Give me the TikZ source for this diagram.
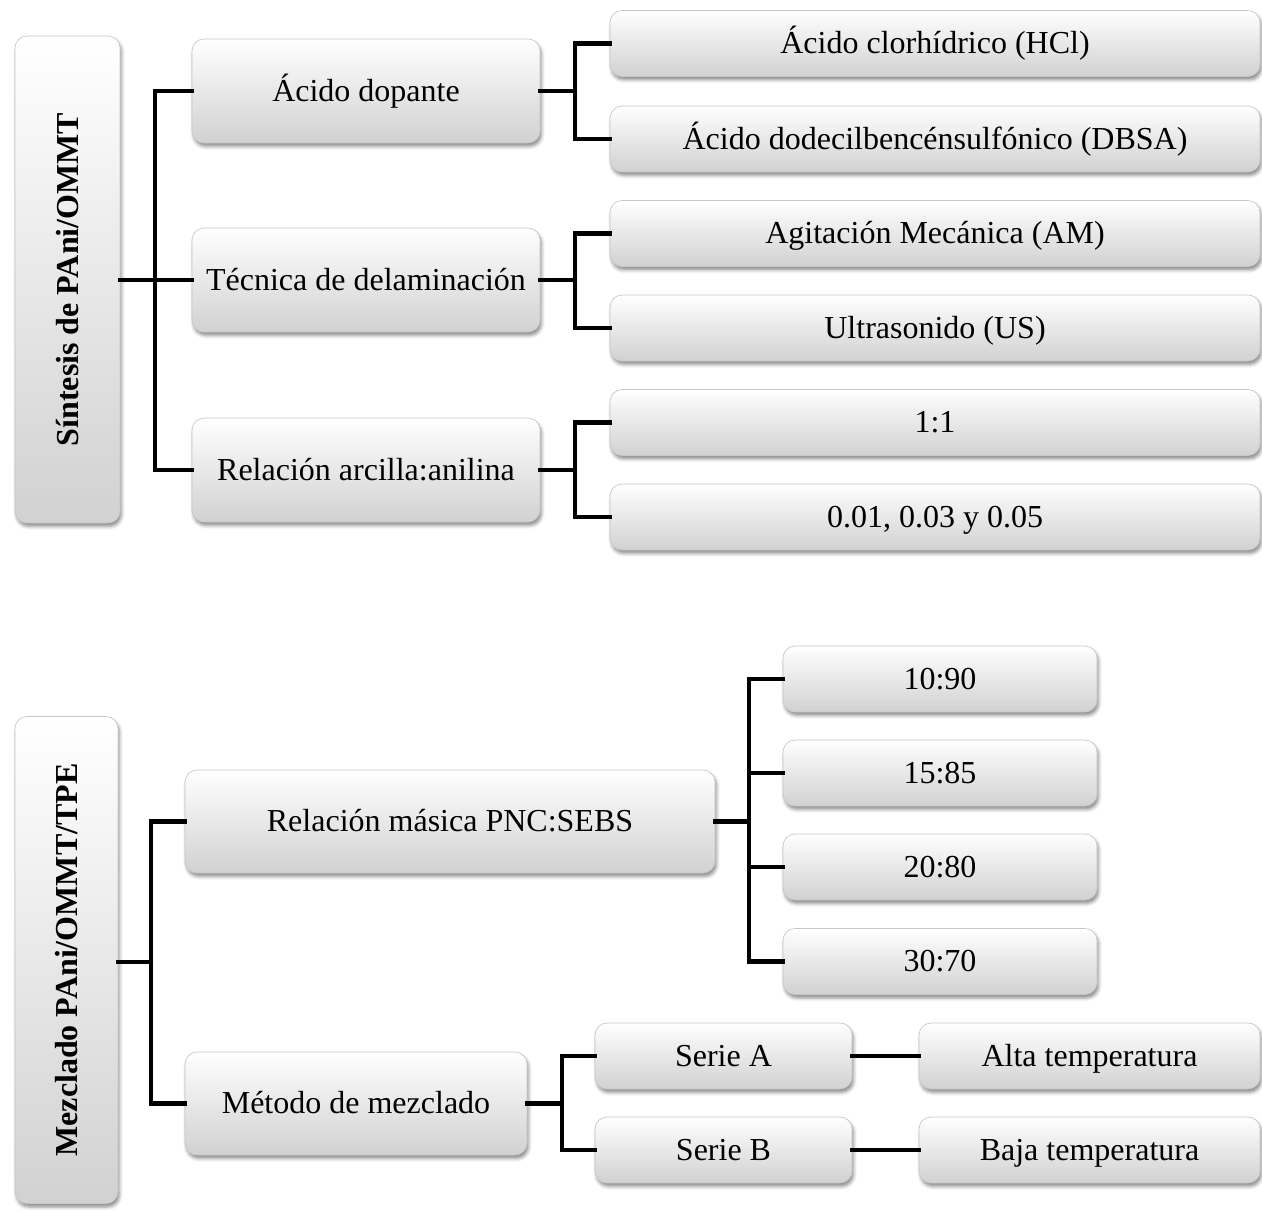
\documentclass[tikz,border=0pt]{standalone}
\usepackage{fontspec}
\setmainfont{Liberation Serif}
\usetikzlibrary{shadows,shadows.blur}
\begin{document}
\def\u{0.75pt}
\begin{tikzpicture}[x=0.75pt, y=-0.75pt,
  box/.style={rounded corners=9pt, draw=black!22, line width=0.5pt,
    top color=white, bottom color=black!18,
    blur shadow={shadow xshift=1.2pt, shadow yshift=-2.6pt, shadow blur radius=2.5pt, shadow opacity=45},
    inner sep=0pt, align=center, text height=19pt, text depth=3.4pt,
    font=\fontsize{24}{28}\selectfont},
  rootbox/.style={box, text height=, text depth=, font=\fontsize{24}{28}\selectfont\bfseries},
  conn/.style={draw=black, line width=3.6pt, line join=miter, line cap=rect}]
\useasboundingbox (0,0) rectangle (1262,1211);

% ---------- upper tree ----------
\node[rootbox, minimum width=105*\u, minimum height=487*\u] (r1) at (67.5,279.5) {\rotatebox{90}{Síntesis de PAni/OMMT}};

\node[box, minimum width=348*\u, minimum height=104*\u] (a) at (366,91) {Ácido dopante};
\node[box, minimum width=348*\u, minimum height=104*\u] (b) at (366,280) {Técnica de delaminación};
\node[box, minimum width=348*\u, minimum height=104*\u] (c) at (366,470) {Relación arcilla:anilina};

\node[box, minimum width=650*\u, minimum height=66*\u] (a1) at (935,43.5) {Ácido clorhídrico (HCl)};
\node[box, minimum width=650*\u, minimum height=66*\u] (a2) at (935,139) {Ácido dodecilbencénsulfónico (DBSA)};
\node[box, minimum width=650*\u, minimum height=66*\u] (b1) at (935,233.5) {Agitación Mecánica (AM)};
\node[box, minimum width=650*\u, minimum height=66*\u] (b2) at (935,328) {Ultrasonido (US)};
\node[box, minimum width=650*\u, minimum height=66*\u] (c1) at (935,422.5) {1:1};
\node[box, minimum width=650*\u, minimum height=66*\u] (c2) at (935,517) {0.01, 0.03 y 0.05};

\coordinate (j1) at (155,280);
\coordinate (ja) at (575,91);
\coordinate (jb) at (575,280);
\coordinate (jc) at (575,470);

\draw[conn] (r1.east |- j1) -- (j1);
\draw[conn] (j1) -- (b.west);
\draw[conn] (j1) |- (a.west);
\draw[conn] (j1) |- (c.west);
\draw[conn] (a.east) -- (ja);
\draw[conn] (ja) |- (a1.west);
\draw[conn] (ja) |- (a2.west);
\draw[conn] (b.east) -- (jb);
\draw[conn] (jb) |- (b1.west);
\draw[conn] (jb) |- (b2.west);
\draw[conn] (c.east) -- (jc);
\draw[conn] (jc) |- (c1.west);
\draw[conn] (jc) |- (c2.west);

% ---------- lower tree ----------
\node[rootbox, minimum width=103*\u, minimum height=487*\u] (r2) at (66.5,960) {\rotatebox{90}{Mezclado PAni/OMMT/TPE}};

\node[box, minimum width=530*\u, minimum height=103*\u] (m) at (450,821.5) {Relación másica PNC:SEBS};
\node[box, minimum width=342*\u, minimum height=103*\u] (n) at (356,1103.5) {Método de mezclado};

\node[box, minimum width=314*\u, minimum height=66*\u] (m1) at (940,679) {10:90};
\node[box, minimum width=314*\u, minimum height=66*\u] (m2) at (940,773) {15:85};
\node[box, minimum width=314*\u, minimum height=66*\u] (m3) at (940,867) {20:80};
\node[box, minimum width=314*\u, minimum height=66*\u] (m4) at (940,961.5) {30:70};

\node[box, minimum width=257*\u, minimum height=66*\u] (sa) at (723.5,1056) {Serie A};
\node[box, minimum width=257*\u, minimum height=66*\u] (sb) at (723.5,1150) {Serie B};
\node[box, minimum width=341*\u, minimum height=66*\u] (ta) at (1089.5,1056) {Alta temperatura};
\node[box, minimum width=341*\u, minimum height=66*\u] (tb) at (1089.5,1150) {Baja temperatura};

\coordinate (j2) at (151,962);
\coordinate (jm) at (749,821.5);
\coordinate (jn) at (562,1103.5);

\draw[conn] (r2.east |- j2) -- (j2);
\draw[conn] (j2) |- (m.west);
\draw[conn] (j2) |- (n.west);
\draw[conn] (m.east) -- (jm);
\draw[conn] (jm) |- (m1.west);
\draw[conn] (jm) |- (m2.west);
\draw[conn] (jm) |- (m3.west);
\draw[conn] (jm) |- (m4.west);
\draw[conn] (n.east) -- (jn);
\draw[conn] (jn) |- (sa.west);
\draw[conn] (jn) |- (sb.west);
\draw[conn] (sa.east) -- (ta.west);
\draw[conn] (sb.east) -- (tb.west);
\end{tikzpicture}
\end{document}
